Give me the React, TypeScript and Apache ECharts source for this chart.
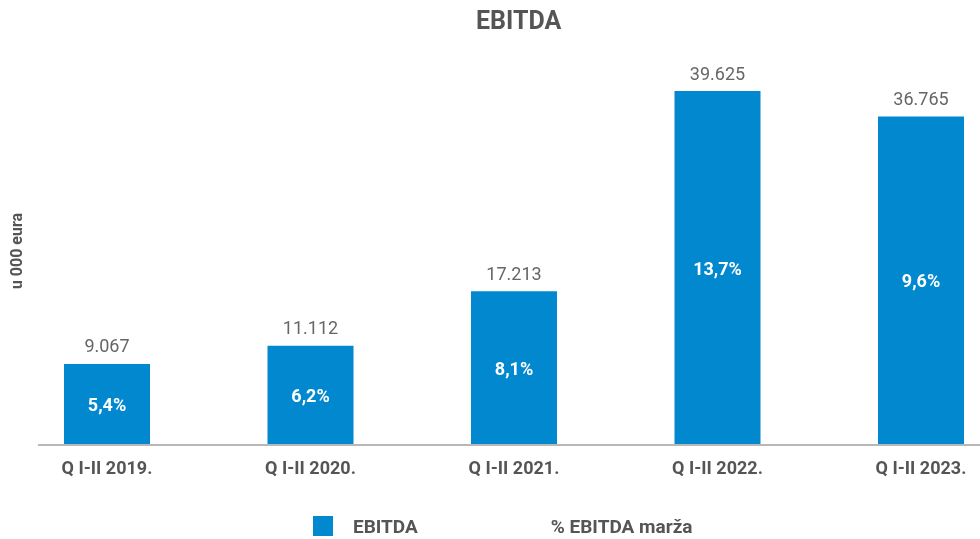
import React, { useEffect, useRef } from "react";
import * as echarts from "echarts";

const categories = ["Q I-II 2019.", "Q I-II 2020.", "Q I-II 2021.", "Q I-II 2022.", "Q I-II 2023."];
const ebitda = [9067, 11112, 17213, 39625, 36765];
const margin = ["5,4%", "6,2%", "8,1%", "13,7%", "9,6%"];
const marginValues = [5.4, 6.2, 8.1, 13.7, 9.6];

const BLUE = "#0288CE";
const FONT = "Roboto, 'DejaVu Sans', sans-serif";

function fmt(v: number): string {
  const s = String(Math.round(v));
  return s.replace(/\B(?=(\d{3})+(?!\d))/g, ".");
}

export default function App() {
  const ref = useRef<HTMLDivElement>(null);
  useEffect(() => {
    if (!ref.current) return;
    const chart = echarts.init(ref.current, undefined, { renderer: "svg" });
    chart.setOption({
      animation: false,
      textStyle: { fontFamily: FONT },
      title: {
        text: "EBITDA",
        left: 471,
        top: 3,
        textStyle: { fontFamily: FONT, fontSize: 25, fontWeight: "bold", color: "#555" },
      },
      legend: {
        left: 308,
        top: 511,
        itemWidth: 20,
        itemHeight: 20,
        itemGap: 93,
        selectedMode: false,
        textStyle: { fontFamily: FONT, fontSize: 19, fontWeight: "bold", color: "#555", padding: [0, 0, 0, 15] },
        data: [
          { name: "EBITDA", icon: "rect", itemStyle: { color: BLUE } },
          { name: "% EBITDA marža", icon: "rect", itemStyle: { color: "rgba(0,0,0,0)", opacity: 0 } },
        ],
      },
      grid: {
        left: 5.25,
        top: 87.65,
        width: 1017.5,
        height: 357.35,
        containLabel: false,
        outerBoundsMode: "none",
      },
      xAxis: {
        type: "category",
        data: categories,
        axisLine: { show: false },
        axisTick: { show: false },
        axisLabel: { margin: 13, fontFamily: FONT, fontSize: 18, fontWeight: "bold", color: "#555" },
      },
      yAxis: [
        { type: "value", min: 0, max: 40000, show: false, splitLine: { show: false } },
        { type: "value", min: 0, max: 100, show: false, splitLine: { show: false } },
      ],
      graphic: [
        {
          type: "line",
          shape: { x1: 38, y1: 445, x2: 980, y2: 445 },
          style: { stroke: "#b8b8b8", lineWidth: 2 },
          z: 10,
        },
        {
          type: "text",
          x: 16,
          y: 251,
          rotation: Math.PI / 2,
          style: {
            text: "u 000 eura",
            fontFamily: FONT,
            fontSize: 16,
            fontWeight: "bold",
            fill: "#555",
            align: "center",
            verticalAlign: "middle",
          },
        },
      ],
      series: [
        {
          name: "EBITDA",
          type: "bar",
          data: ebitda,
          barWidth: 86,
          itemStyle: { color: BLUE },
          label: {
            show: true,
            position: "inside",
            formatter: (p: any) => margin[p.dataIndex],
            fontFamily: FONT,
            fontSize: 18,
            fontWeight: "bold",
            color: "#fff",
          },
        },
        {
          name: "EBITDA values",
          type: "bar",
          data: ebitda,
          barWidth: 86,
          barGap: "-100%",
          itemStyle: { color: "rgba(0,0,0,0)" },
          label: {
            show: true,
            position: "top",
            distance: 9,
            formatter: (p: any) => fmt(p.value),
            fontFamily: FONT,
            fontSize: 18,
            color: "#666",
          },
          z: 3,
        },
        {
          name: "% EBITDA marža",
          type: "line",
          yAxisIndex: 1,
          data: marginValues,
          symbol: "none",
          lineStyle: { opacity: 0 },
          itemStyle: { opacity: 0 },
          silent: true,
        },
      ],
    });
    return () => chart.dispose();
  }, []);
  return (
    <div
      ref={ref}
      style={{ position: "fixed", left: 0, top: 0, width: 980, height: 539, overflow: "hidden" }}
    />
  );
}
